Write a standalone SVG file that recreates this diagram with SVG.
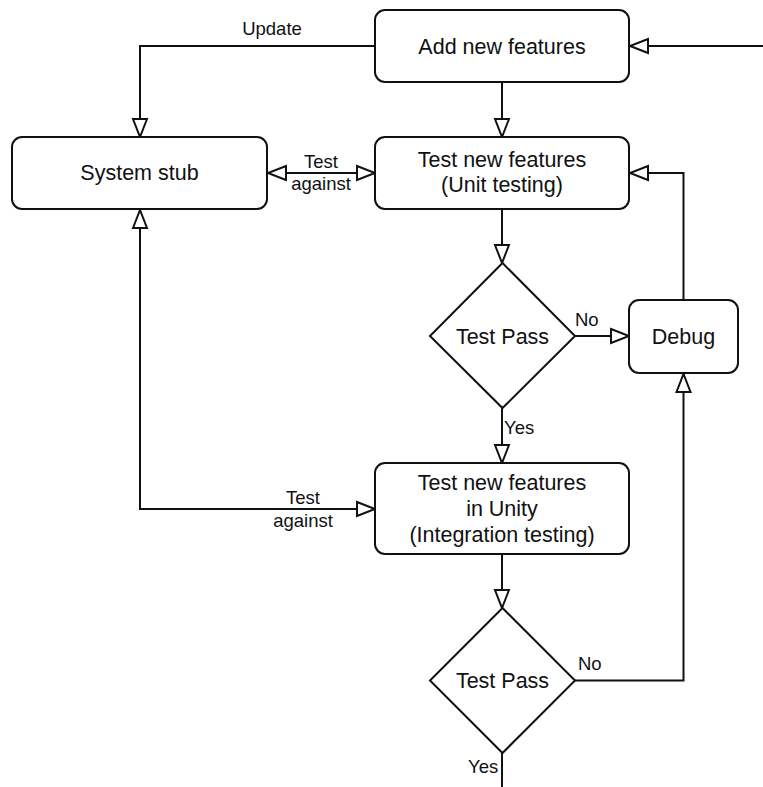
<svg xmlns="http://www.w3.org/2000/svg" width="763" height="787" viewBox="0 0 763 787">
  <style>
    .box { fill: #ffffff; stroke: #111111; stroke-width: 2; }
    .edge { fill: none; stroke: #111111; stroke-width: 2; }
    .t { font-family: "Liberation Sans", Arial, sans-serif; font-size: 21.5px; fill: #111111; text-anchor: middle; }
    .lbl { font-family: "Liberation Sans", Arial, sans-serif; font-size: 18.5px; fill: #111111; }
    .mid { text-anchor: middle; }
  </style>
  <defs>
    <marker id="tri" markerUnits="userSpaceOnUse" markerWidth="24" markerHeight="20" viewBox="-2 -2 24 20" refX="18" refY="7" orient="auto-start-reverse">
      <path d="M0,0 L18,7 L0,14 Z" fill="#ffffff" stroke="#111111" stroke-width="2" stroke-linejoin="miter"/>
    </marker>
  </defs>
  <rect width="763" height="787" fill="#ffffff"/>

  <g id="connectors">
    <!-- incoming loop into Add new features -->
    <path class="edge" d="M763,46 H630" marker-end="url(#tri)"/>
    <!-- Update -->
    <path class="edge" d="M375,46 H140 V137" marker-end="url(#tri)"/>
    <!-- Add -> Unit test -->
    <path class="edge" d="M502,82 V137" marker-end="url(#tri)"/>
    <!-- System stub <-> Unit test -->
    <path class="edge" d="M268,173 H375" marker-start="url(#tri)" marker-end="url(#tri)"/>
    <!-- Unit test -> decision 1 -->
    <path class="edge" d="M502,209 V263" marker-end="url(#tri)"/>
    <!-- decision 1 No -> Debug -->
    <path class="edge" d="M575,336 H629" marker-end="url(#tri)"/>
    <!-- Debug -> Unit test -->
    <path class="edge" d="M683.5,300 V173 H630" marker-end="url(#tri)"/>
    <!-- decision 1 Yes -> Integration -->
    <path class="edge" d="M502,408 V463" marker-end="url(#tri)"/>
    <!-- System stub <-> Integration -->
    <path class="edge" d="M140,210 V509 H375" marker-start="url(#tri)" marker-end="url(#tri)"/>
    <!-- Integration -> decision 2 -->
    <path class="edge" d="M502,554 V608" marker-end="url(#tri)"/>
    <!-- decision 2 No -> Debug -->
    <path class="edge" d="M575,680.5 H683.5 V374" marker-end="url(#tri)"/>
    <!-- decision 2 Yes -->
    <path class="edge" d="M502,753 V787"/>

    <text class="lbl mid" x="272" y="35">Update</text>
    <text class="lbl mid" x="321" y="168">Test</text>
    <text class="lbl mid" x="321" y="190">against</text>
    <text class="lbl" x="575" y="326">No</text>
    <text class="lbl" x="504" y="434">Yes</text>
    <text class="lbl mid" x="303" y="504">Test</text>
    <text class="lbl mid" x="303" y="527">against</text>
    <text class="lbl" x="578" y="670">No</text>
    <text class="lbl" x="468" y="773">Yes</text>
  </g>

  <g id="add-features">
    <rect class="box" x="375" y="10" width="254" height="72" rx="10"/>
    <text class="t" x="502" y="53.5">Add new features</text>
  </g>

  <g id="system-stub">
    <rect class="box" x="12" y="137" width="255" height="72" rx="10"/>
    <text class="t" x="139.5" y="180">System stub</text>
  </g>

  <g id="unit-test">
    <rect class="box" x="375" y="137" width="254" height="72" rx="10"/>
    <text class="t" x="502" y="167">Test new features</text>
    <text class="t" x="502" y="192">(Unit testing)</text>
  </g>

  <g id="decision-1">
    <polygon class="box" points="502.5,263 575,336 502.5,408 430,336"/>
    <text class="t" x="502.5" y="344">Test Pass</text>
  </g>

  <g id="debug">
    <rect class="box" x="629" y="300" width="109" height="73" rx="10"/>
    <text class="t" x="683.5" y="344">Debug</text>
  </g>

  <g id="integration-test">
    <rect class="box" x="375" y="463" width="254" height="91" rx="10"/>
    <text class="t" x="502" y="490">Test new features</text>
    <text class="t" x="502" y="516">in Unity</text>
    <text class="t" x="502" y="542">(Integration testing)</text>
  </g>

  <g id="decision-2">
    <polygon class="box" points="502.5,608 575,680.5 502.5,753 430,680.5"/>
    <text class="t" x="502.5" y="688">Test Pass</text>
  </g>
</svg>
